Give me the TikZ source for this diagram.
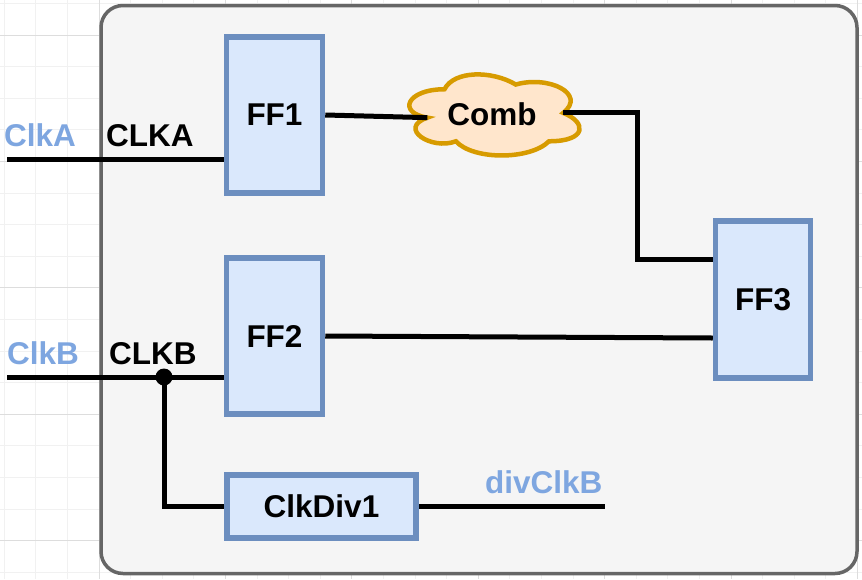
\documentclass[tikz,border=0pt]{standalone}
\usepackage{fontspec}
\setmainfont{Liberation Sans}
\newcommand\lblfont{\fontsize{31.5}{37}\selectfont\bfseries}
\definecolor{boxstroke}{HTML}{6C8EBF}
\definecolor{boxfill}{HTML}{DAE8FC}
\definecolor{cloudstroke}{HTML}{D79B00}
\definecolor{cloudfill}{HTML}{FFE6CC}
\definecolor{lblblue}{HTML}{7EA6E0}
\definecolor{contstroke}{HTML}{666666}
\definecolor{contfill}{HTML}{F5F5F5}
\definecolor{gridminor}{HTML}{F1F1F1}
\definecolor{gridmajor}{HTML}{DDDDDD}
\begin{document}
\begin{tikzpicture}[x=1pt,y=-1pt,
  wire/.style={line width=5pt, line join=miter, black},
  ffbox/.style={draw=boxstroke, fill=boxfill, line width=5.5pt, inner sep=0pt, font=\lblfont},
  lbl/.style={inner sep=0pt, font=\lblfont},
  bluelbl/.style={lbl, text=lblblue, anchor=base west},
  blacklbl/.style={lbl, text=black, anchor=base west},
  minorline/.style={draw=gridminor, line width=1pt},
  majorline/.style={draw=gridmajor, line width=1pt}]
\useasboundingbox (0,0) rectangle (862,579);
\fill[white] (0,0) rectangle (862,579);
% grid
\foreach \k in {-3,...,24} {
  \pgfmathsetmacro\xx{99+31.6*\k}
  \draw[minorline] (\xx,0) -- (\xx,579);
}
\foreach \k in {-1,...,17} {
  \pgfmathsetmacro\yy{35+31.6*\k}
  \draw[minorline] (0,\yy) -- (862,\yy);
}
\foreach \k in {-1,...,6} {
  \pgfmathsetmacro\xx{99+126.4*\k}
  \draw[majorline] (\xx,0) -- (\xx,579);
}
\foreach \k in {0,...,4} {
  \pgfmathsetmacro\yy{35+126.4*\k}
  \draw[majorline] (0,\yy) -- (862,\yy);
}
% container
\node[draw=contstroke, fill=contfill, line width=3.5pt, rounded corners=22pt,
      minimum width=756pt, minimum height=568pt, inner sep=0pt] (cont) at (479,289.5) {};
% boxes
\node[ffbox, minimum width=96pt, minimum height=156pt] (ff1) at (274.5,115) {FF1};
\node[ffbox, minimum width=96pt, minimum height=156pt] (ff2) at (274.5,336) {FF2};
\node[ffbox, minimum width=95pt, minimum height=157pt] (ff3) at (763,299.5) {FF3};
\node[ffbox, minimum width=189pt, minimum height=63pt] (div) at (321.5,506.5) {ClkDiv1};
% cloud
\begin{scope}[shift={(397,65.6)}, x=190pt, y=-94.6pt]
\draw[line width=4.5pt, draw=cloudstroke, fill=cloudfill]
  (0.25,0.25) .. controls (0.05,0.25) and (0,0.5) .. (0.16,0.55)
  .. controls (0,0.66) and (0.18,0.9) .. (0.31,0.8)
  .. controls (0.4,1) and (0.7,1) .. (0.8,0.8)
  .. controls (1,0.8) and (1,0.6) .. (0.875,0.5)
  .. controls (1,0.3) and (0.8,0.1) .. (0.625,0.2)
  .. controls (0.5,0.05) and (0.3,0.05) .. (0.25,0.25) -- cycle;
\coordinate (combin) at (0.16,0.55);
\coordinate (combout) at (0.875,0.5);
\end{scope}
\node[lbl] (comb) at (492,114) {Comb};
% coordinates
\coordinate (clka) at (7,159);
\coordinate (clkb) at (7,377);
\coordinate (jn) at (164,377);
\coordinate (bend) at (637,259);
\coordinate (divout) at (605,506.5);
% wires
\draw[wire] (clka) -- (clka -| ff1.west);
\draw[wire] (clkb) -- (clkb -| ff2.west);
\draw[wire] (jn) |- (div.west);
\draw[wire] (div.east) -- (divout);
\draw[wire] (ff1.east) -- (combin);
\draw[wire] (combout) -| (bend) -- (bend -| ff3.west);
\draw[wire] (ff2.east) -- ([yshift=-2pt]ff2.east -| ff3.west);
\fill[black] (jn) circle (8.5pt);
% labels
\node[bluelbl] (lclka) at (4,146.7) {ClkA};
\node[blacklbl] (lclkaint) at (106,146.7) {CLKA};
\node[bluelbl] (lclkb) at (7,364) {ClkB};
\node[blacklbl] (lclkbint) at (109,364) {CLKB};
\node[bluelbl] (ldiv) at (485,493) {divClkB};
\end{tikzpicture}
\end{document}
